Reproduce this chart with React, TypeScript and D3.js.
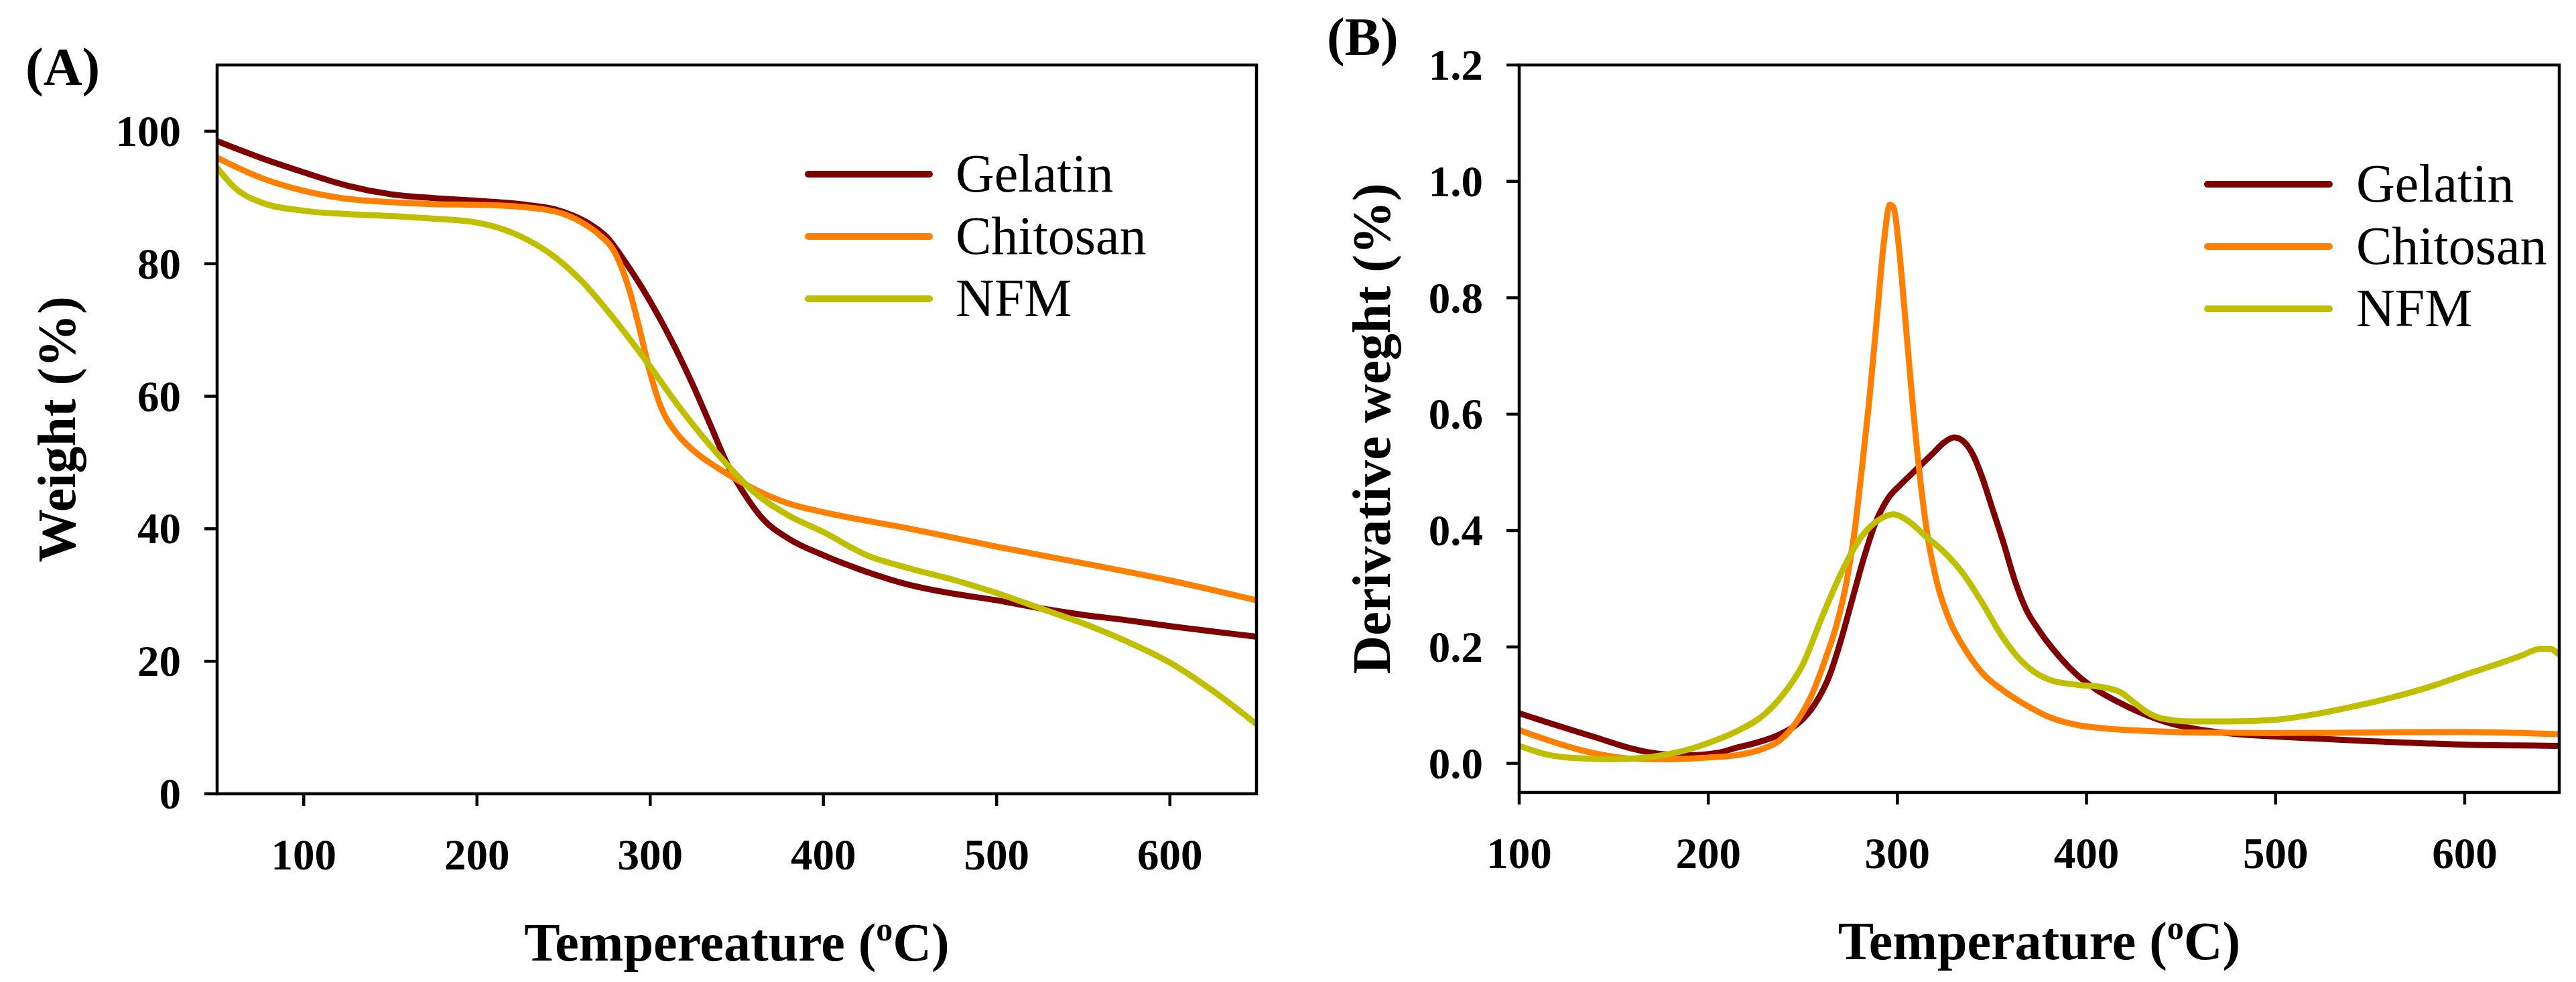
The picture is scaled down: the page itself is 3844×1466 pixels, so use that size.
import * as d3 from "d3"

type Pt = [number, number]

const seriesNames = ["Gelatin", "Chitosan", "NFM"]
const seriesColors = ["#7f0000", "#ff7f00", "#bfbf00"]

// (A) TGA weight (%)
const gelatinTga: Pt[] = [
  [50, 98.5], [75, 96], [100, 93.8], [125, 91.8], [150, 90.5], [175, 89.9], [200, 89.5], [225, 89],
  [250, 87.8], [265, 86], [275, 84], [285, 80.5], [295, 76.5], [305, 72], [315, 67], [325, 61.5],
  [335, 55.5], [345, 49.5], [355, 45], [365, 41.5], [380, 38.5], [400, 36], [425, 33.5], [450, 31.5],
  [475, 30.2], [500, 29.2], [525, 28], [550, 27], [575, 26.2], [600, 25.3], [625, 24.5], [650, 23.7],
]
const chitosanTga: Pt[] = [
  [50, 96], [75, 93], [100, 91], [125, 89.8], [150, 89.3], [175, 89], [200, 88.9], [225, 88.6],
  [250, 87.5], [260, 86.3], [270, 84.5], [280, 81.5], [288, 76], [294, 70], [300, 63.5], [306, 58.5],
  [315, 54.5], [325, 51.8], [340, 49], [360, 46], [380, 43.8], [400, 42.5], [450, 40], [500, 37.3],
  [550, 34.8], [600, 32.2], [650, 29.2],
]
const nfmTga: Pt[] = [
  [50, 94.5], [60, 91.5], [75, 89.3], [100, 88], [125, 87.5], [150, 87.2], [175, 86.8], [200, 86.2],
  [215, 85.2], [230, 83.5], [245, 81], [260, 77.5], [275, 73], [290, 68], [300, 64.5], [315, 59],
  [330, 54], [345, 49.5], [360, 45.5], [380, 42], [400, 39.5], [425, 36], [450, 34], [475, 32.3],
  [500, 30.3], [525, 28], [550, 25.7], [575, 23], [600, 19.8], [625, 15.5], [650, 10.5],
]

// (B) DTG derivative weight
const gelatinDtg: Pt[] = [
  [100, 0.086], [120, 0.065], [140, 0.045], [160, 0.025], [175, 0.016], [190, 0.014], [205, 0.018],
  [215, 0.027], [225, 0.035], [238, 0.05], [248, 0.07], [256, 0.1], [264, 0.15], [270, 0.21],
  [276, 0.28], [282, 0.35], [288, 0.41], [295, 0.455], [302, 0.48], [310, 0.505], [318, 0.53],
  [325, 0.552], [330, 0.56], [335, 0.553], [340, 0.53], [345, 0.49], [350, 0.44], [356, 0.38],
  [362, 0.315], [368, 0.265], [375, 0.228], [386, 0.182], [395, 0.152], [405, 0.127], [417, 0.105],
  [430, 0.085], [445, 0.068], [460, 0.058], [480, 0.05], [500, 0.046], [525, 0.042], [550, 0.038],
  [575, 0.035], [600, 0.032], [625, 0.031], [650, 0.03],
]
const chitosanDtg: Pt[] = [
  [100, 0.057], [115, 0.04], [130, 0.025], [145, 0.014], [160, 0.008], [180, 0.007], [200, 0.01],
  [215, 0.014], [228, 0.024], [238, 0.04], [247, 0.073], [255, 0.12], [262, 0.18], [268, 0.24],
  [273, 0.31], [277, 0.39], [281, 0.5], [285, 0.62], [289, 0.76], [293, 0.9], [296, 0.96],
  [298, 0.955], [301, 0.88], [304, 0.77], [308, 0.62], [312, 0.49], [316, 0.39], [321, 0.31],
  [327, 0.25], [335, 0.2], [345, 0.155], [356, 0.125], [368, 0.1], [380, 0.08], [395, 0.066],
  [410, 0.06], [430, 0.056], [460, 0.053], [500, 0.052], [550, 0.053], [600, 0.054], [650, 0.05],
]
const nfmDtg: Pt[] = [
  [100, 0.03], [115, 0.015], [130, 0.009], [150, 0.007], [170, 0.011], [185, 0.02], [200, 0.035],
  [215, 0.055], [230, 0.085], [240, 0.12], [250, 0.17], [260, 0.25], [270, 0.325], [280, 0.385],
  [290, 0.418], [298, 0.428], [305, 0.418], [315, 0.39], [325, 0.362], [335, 0.325], [345, 0.275],
  [355, 0.22], [363, 0.185], [372, 0.158], [382, 0.142], [395, 0.135], [410, 0.13], [418, 0.122],
  [425, 0.105], [432, 0.088], [440, 0.077], [455, 0.072], [475, 0.072], [500, 0.075], [520, 0.084],
  [540, 0.097], [560, 0.112], [580, 0.13], [600, 0.152], [615, 0.168], [630, 0.185], [640, 0.197],
  [645, 0.197], [650, 0.186],
]

const xTicksA = [100, 200, 300, 400, 500, 600]
const yTicksA = [0, 20, 40, 60, 80, 100]
const xTicksB = [100, 200, 300, 400, 500, 600]
const yTicksB = [0, 0.2, 0.4, 0.6, 0.8, 1.0, 1.2]

const FONT = "'Liberation Serif', 'Times New Roman', serif"

type PanelProps = {
  letter: string
  letterPos: [number, number]
  frame: { left: number; right: number; top: number; bottom: number }
  xDomain: [number, number]
  yDomain: [number, number]
  xTicks: number[]
  yTicks: number[]
  yFormat: (v: number) => string
  series: Pt[][]
  xTitle: string
  yTitle: string
  yTitleX: number
  legend: { x1: number; x2: number; textX: number; y: number; gap: number }
}

function Panel(p: PanelProps) {
  const { frame } = p
  const x = d3.scaleLinear().domain(p.xDomain).range([frame.left, frame.right])
  const y = d3.scaleLinear().domain(p.yDomain).range([frame.bottom, frame.top])
  const line = d3
    .line<Pt>()
    .x((d) => x(d[0]))
    .y((d) => y(d[1]))
    .curve(d3.curveMonotoneX)
  const cx = (frame.left + frame.right) / 2
  const cy = (frame.top + frame.bottom) / 2
  const clipId = `clip-${p.letter.replace(/\W/g, "")}`

  return (
    <g>
      <defs>
        <clipPath id={clipId}>
          <rect x={frame.left} y={frame.top - 10} width={frame.right - frame.left + 6} height={frame.bottom - frame.top + 10} />
        </clipPath>
      </defs>
      <text x={p.letterPos[0]} y={p.letterPos[1]} fontFamily={FONT} fontWeight="bold" fontSize={80}>
        {p.letter}
      </text>

      {/* curves */}
      <g clipPath={`url(#${clipId})`}>
        {p.series.map((s, i) => (
          <path key={i} d={line(s) ?? ""} fill="none" stroke={seriesColors[i]} strokeWidth={9} strokeLinejoin="round" />
        ))}
      </g>

      {/* frame */}
      <rect
        x={frame.left}
        y={frame.top}
        width={frame.right - frame.left}
        height={frame.bottom - frame.top}
        fill="none"
        stroke="#000"
        strokeWidth={4.5}
      />

      {/* x ticks */}
      {p.xTicks.map((t) => (
        <g key={`x${t}`}>
          <line x1={x(t)} x2={x(t)} y1={frame.bottom} y2={frame.bottom + 18} stroke="#000" strokeWidth={4.5} />
          <text x={x(t)} y={frame.bottom + 113} textAnchor="middle" fontFamily={FONT} fontWeight="bold" fontSize={65}>
            {t}
          </text>
        </g>
      ))}

      {/* y ticks */}
      {p.yTicks.map((t) => (
        <g key={`y${t}`}>
          <line x1={frame.left - 19} x2={frame.left} y1={y(t)} y2={y(t)} stroke="#000" strokeWidth={4.5} />
          <text
            x={frame.left - 54}
            y={y(t)}
            dy="0.34em"
            textAnchor="end"
            fontFamily={FONT}
            fontWeight="bold"
            fontSize={65}
          >
            {p.yFormat(t)}
          </text>
        </g>
      ))}

      {/* axis titles */}
      <text x={cx} y={frame.bottom + 249} textAnchor="middle" fontFamily={FONT} fontWeight="bold" fontSize={80}>
        {p.xTitle} (<tspan fontSize={50} dy={-30}>o</tspan>
        <tspan dy={30}>C)</tspan>
      </text>
      <text
        transform={`translate(${p.yTitleX},${cy}) rotate(-90)`}
        textAnchor="middle"
        fontFamily={FONT}
        fontWeight="bold"
        fontSize={80}
      >
        {p.yTitle}
      </text>

      {/* legend */}
      {seriesNames.map((name, i) => {
        const ly = p.legend.y + i * p.legend.gap
        return (
          <g key={name}>
            <line
              x1={p.legend.x1}
              x2={p.legend.x2}
              y1={ly}
              y2={ly}
              stroke={seriesColors[i]}
              strokeWidth={10}
              strokeLinecap="round"
            />
            <text x={p.legend.textX} y={ly + 26} fontFamily={FONT} fontSize={80}>
              {name}
            </text>
          </g>
        )
      })}
    </g>
  )
}

export default function App() {
  return (
    <svg
      width={3844}
      height={1466}
      viewBox="0 0 3844 1466"
      style={{ position: "absolute", left: 0, top: 0, background: "#fff" }}
    >
      <rect width={3844} height={1466} fill="#fff" />
      <Panel
        letter="(A)"
        letterPos={[38, 127]}
        frame={{ left: 324, right: 1875, top: 97, bottom: 1185 }}
        xDomain={[50, 650]}
        yDomain={[0, 110]}
        xTicks={xTicksA}
        yTicks={yTicksA}
        yFormat={(v) => String(v)}
        series={[gelatinTga, chitosanTga, nfmTga]}
        xTitle="Tempereature"
        yTitle="Weight (%)"
        yTitleX={112}
        legend={{ x1: 1206, x2: 1387, textX: 1426, y: 260, gap: 93 }}
      />
      <Panel
        letter="(B)"
        letterPos={[1980, 82]}
        frame={{ left: 2267, right: 3819, top: 97, bottom: 1183 }}
        xDomain={[100, 650]}
        yDomain={[-0.05, 1.2]}
        xTicks={xTicksB}
        yTicks={yTicksB}
        yFormat={d3.format(".1f")}
        series={[gelatinDtg, chitosanDtg, nfmDtg]}
        xTitle="Temperature"
        yTitle="Derivative weght (%)"
        yTitleX={2074}
        legend={{ x1: 3294, x2: 3476, textX: 3516, y: 275, gap: 93 }}
      />
    </svg>
  )
}
